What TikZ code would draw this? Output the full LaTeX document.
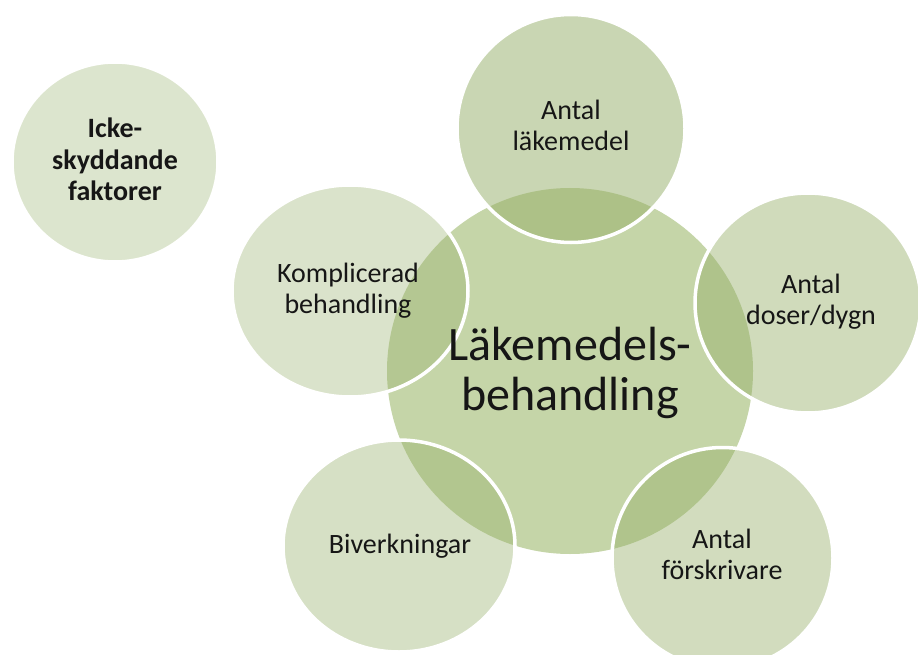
\documentclass[tikz,border=0pt]{standalone}
\usepackage{fontspec}
\setmainfont{Carlito}
\usetikzlibrary{shapes.geometric}

% palette
\definecolor{leaf}{RGB}{150,175,105}
\definecolor{hub}{RGB}{197,213,168}
\definecolor{ink}{RGB}{22,22,22}

\tikzset{
  bubble/.style={ellipse, inner sep=0pt, draw=white, line width=3.5pt, fill=leaf},
  hubdisc/.style={circle, inner sep=0pt, fill=hub, minimum size=366pt},
  lbl/.style={anchor=base, inner sep=0pt, text=ink, font=\fontsize{28}{31}\selectfont},
  hublbl/.style={anchor=base, inner sep=0pt, text=ink, font=\fontsize{48}{50}\selectfont},
}
% centred stack of lines whose baseline is the first line
\newcommand\linestack[1]{\begin{tabular}[t]{@{}c@{}}#1\end{tabular}}

\begin{document}
\begin{tikzpicture}[x=1pt, y=-1pt]
  \useasboundingbox (0,0) rectangle (918,655);
  \clip (0,0) rectangle (918,655);

  % central disc
  \node[hubdisc] (hub) at (570,371) {};

  % surrounding bubbles, each semi-transparent with a white rim
  \node[bubble, fill opacity=.33, minimum width=206pt, minimum height=200pt] (icke) at (115,162) {};
  \node[bubble, fill opacity=.35, minimum width=236pt, minimum height=212pt] (kompl) at (350,291) {};
  \node[bubble, fill opacity=.51, minimum width=228pt, minimum height=228pt] (antal) at (571,128.5) {};
  \node[bubble, fill opacity=.45, minimum width=226pt, minimum height=220pt] (doser) at (808,303) {};
  \node[bubble, fill opacity=.43, minimum width=221pt, minimum height=221pt] (forskr) at (722.5,558) {};
  \node[bubble, fill opacity=.39, minimum width=232pt, minimum height=212pt] (biverk) at (399,546) {};

  % labels
  \node[lbl, font=\fontsize{28}{31.5}\selectfont\bfseries] (tIcke) at (115,138) {\linestack{Icke-\\skyddande\\faktorer}};
  \node[lbl] (tKompl) at (348,282) {\linestack{Komplicerad\\behandling}};
  \node[lbl] (tAntal) at (571,120) {\linestack{Antal\\läkemedel}};
  \node[lbl] (tDoser) at (811,293) {\linestack{Antal\\doser/dygn}};
  \node[lbl] (tForskr) at (722,548) {\linestack{Antal\\förskrivare}};
  \node[lbl] (tBiverk) at (400,553) {Biverkningar};
  \node[hublbl] (tHub) at (570,360) {\linestack{Läkemedels-\\behandling}};
\end{tikzpicture}
\end{document}
